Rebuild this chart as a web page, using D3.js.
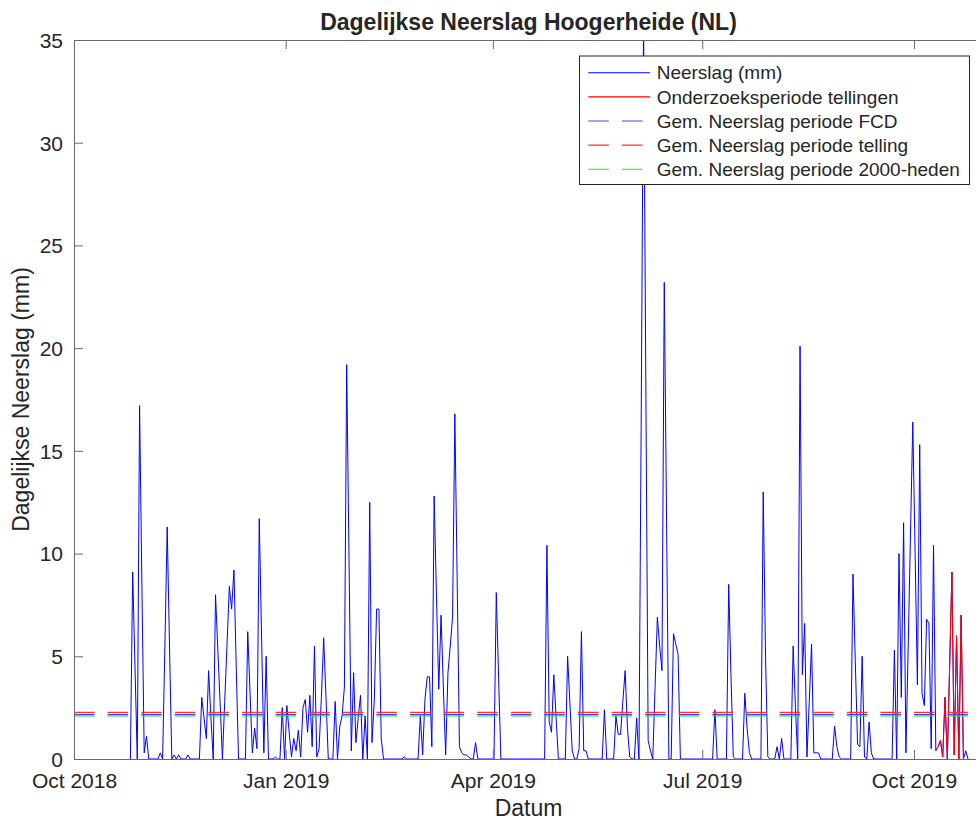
<!DOCTYPE html>
<html>
<head>
<meta charset="utf-8">
<script src="https://cdn.jsdelivr.net/npm/d3@7"></script>
<style>
  html, body { margin: 0; padding: 0; background: #fff; }
  svg { display: block; }
  text { font-family: "Liberation Sans", Arial, Helvetica, sans-serif; fill: #262626; }
</style>
</head>
<body>
<script>
// ---------- DATA ----------
const seriesStart = "2018-10-25"; // first day of the daily series
const neerslag = [
  0, 9.1, 4.5, 0, 17.2, 8.5, 0.3, 1.1, 0, 0,            // 24-33
  0, 0, 0, 0.3, 0, 5.5, 11.3, 5.5, 0, 0.2,              // 34-43
  0, 0.2, 0, 0, 0, 0.2, 0, 0, 0, 0,                     // 44-53
  0, 3.0, 2.0, 1.0, 4.3, 2.0, 0, 8.0, 5.3, 2.7,         // 54-63
  0, 2.8, 5.6, 8.4, 7.3, 9.2, 4.5, 0, 0, 0,             // 64-73
  0, 6.2, 3.2, 0.3, 1.5, 0.5, 11.7, 6.0, 0.3, 5.0,      // 74-83
  0, 0, 0, 0.1, 0, 0, 2.5, 0, 2.6, 1.3,                 // 84-93
  0.1, 1.0, 0.4, 1.4, 0.1, 2.5, 2.9, 1.3, 3.1, 0.6,     // 94-103
  5.5, 0.1, 0.5, 3.0, 5.9, 3.0, 0, 0, 0, 2.8,           // 104-113
  0, 1.6, 2.1, 3.5, 19.2, 9.8, 0.4, 4.2, 0.8, 2.0,      // 114-123
  3.1, 0, 2.1, 0, 12.5, 0.8, 2.9, 7.3, 7.3, 1.0,        // 124-133
  0, 0, 0, 0, 0, 0, 0, 0, 0, 0.1,                       // 134-143
  0, 0, 0, 0, 0, 0, 2.1, 0.2, 2.9, 4.0,                 // 144-153
  4.0, 0.6, 12.8, 8.0, 3.4, 7.0, 3.5, 0.2, 4.2, 5.5,    // 154-163
  6.9, 16.8, 8.7, 0.6, 0.3, 0.2, 0.2, 0.1, 0, 0,        // 164-173
  0.8, 0, 0, 0, 0, 0, 0, 0, 0, 8.1,                     // 174-183
  4.0, 0, 0, 0, 0, 0, 0, 0, 0, 0,                       // 184-193
  0, 0, 0, 0, 0, 0, 0, 0, 0, 0,                         // 194-203
  0, 10.4, 1.8, 1.3, 4.1, 2.0, 0, 0, 0, 0,              // 204-213
  5.0, 2.7, 0.4, 0, 0, 0.5, 6.2, 0.4, 0.4, 0,           // 214-223
  0, 0, 0, 0, 0, 0, 2.4, 0, 0, 0,                       // 224-233
  0, 2.1, 1.2, 1.2, 2.8, 4.3, 1.5, 0.1, 0, 0,           // 234-243
  2.0, 0, 17.0, 36.0, 18.0, 0.9, 0.4, 0, 3.5, 6.9,      // 244-253
  5.5, 4.3, 23.2, 11.6, 0, 0, 6.1, 5.6, 5.1, 0,         // 254-263
  0, 0, 0, 0, 0, 0, 0, 0, 0, 0,                         // 264-273
  0, 0, 0, 0, 2.4, 0, 0, 0, 0, 0,                       // 274-283
  8.5, 4.0, 0.1, 0, 0, 0, 0, 3.2, 1.5, 0.3,             // 284-293
  0, 0, 0, 0, 0, 13.0, 5.0, 0.1, 0, 0,                  // 294-303
  0, 0.6, 0, 1.0, 0, 0, 0, 0, 5.5, 2.5,                 // 304-313
  0, 20.1, 4.1, 6.6, 0.1, 2.8, 5.6, 0.3, 0.3, 0.3,      // 314-323
  0, 0, 0, 0, 0, 0, 1.6, 0.6, 0.1, 0,                   // 324-333
  0, 0, 0, 0, 9.0, 4.8, 0.7, 0.6, 5.0, 0.1,             // 334-343
  0, 1.8, 0.3, 0, 0, 0, 0, 0, 0, 0,                     // 344-353
  0, 0, 5.3, 0, 10.0, 3.0, 11.5, 0.3, 5.5, 11.0,        // 354-363
  16.4, 10.0, 3.6, 15.3, 3.2, 2.6, 6.8, 6.6, 0.5, 10.4, // 364-373
  0.4, 0.6, 0.9, 0.1, 3.0, 0, 4.5, 9.1, 0.2, 6.0,       // 374-383
  0, 7.0, 0, 0.4, 0                                     // 384-388
];
const periodStart = "2019-10-11";   // Onderzoeksperiode tellingen
const periodEnd   = "2019-10-22";
const meanLabels = ["Gem. Neerslag periode FCD", "Gem. Neerslag periode telling", "Gem. Neerslag periode 2000-heden"];
const meanValues = [2.16, 2.27, 2.09];
const xDomain = ["2018-10-01", "2019-10-31"];
const xTickDates  = ["2018-10-01", "2019-01-01", "2019-04-01", "2019-07-01", "2019-10-01"];
const xTickLabels = ["Oct 2018", "Jan 2019", "Apr 2019", "Jul 2019", "Oct 2019"];
const yTicks = [0, 5, 10, 15, 20, 25, 30, 35];
const titleText = "Dagelijkse Neerslag Hoogerheide (NL)";
const xLabelText = "Datum";
const yLabelText = "Dagelijkse Neerslag (mm)";
const legendLabels = ["Neerslag (mm)", "Onderzoeksperiode tellingen"].concat(meanLabels);

// ---------- LAYOUT / STYLE ----------
const W = 976, H = 821;
const L = 74, T = 40, B = 759, R = 983;
const cBlue = "#0000ff", cRed = "#ff0000", cGreen = "#2ee02e";
const meanColors = ["#4040ff", "#ff3030", cGreen];
const dash = "20.5,13.1";

const parse = d3.utcParse("%Y-%m-%d");
const x = d3.scaleUtc().domain(xDomain.map(parse)).range([L, R]);
const y = d3.scaleLinear().domain([0, 35]).range([B, T]);

const t0 = parse(seriesStart);
const pts = neerslag.map((v, i) => ({ date: d3.utcHour.offset(d3.utcDay.offset(t0, i), 12), v }));
const pS = parse(periodStart), pE = d3.utcHour.offset(parse(periodEnd), 23);
const redPts = pts.filter(p => p.date >= pS && p.date <= pE);

const svg = d3.select("body").append("svg").attr("width", W).attr("height", H);

svg.append("defs").append("clipPath").attr("id", "clip")
  .append("rect").attr("x", L).attr("y", T).attr("width", R - L).attr("height", B - T);

const plot = svg.append("g").attr("clip-path", "url(#clip)");
const line = d3.line().x(d => x(d.date)).y(d => y(d.v));

plot.append("path").datum(pts).attr("d", line)
  .attr("fill", "none").attr("stroke", cBlue).attr("stroke-width", 1).attr("stroke-linejoin", "round");
plot.append("path").datum(redPts).attr("d", line)
  .attr("fill", "none").attr("stroke", cRed).attr("stroke-width", 1).attr("stroke-linejoin", "round");

meanValues.forEach((m, k) => {
  plot.append("line")
    .attr("x1", x(parse(xDomain[0]))).attr("x2", x(parse(xDomain[1])))
    .attr("y1", y(m)).attr("y2", y(m))
    .attr("stroke", meanColors[k]).attr("stroke-width", 1.1)
    .attr("stroke-dasharray", dash);
});

// ---------- AXES ----------
const axisColor = "#6a6a6a";
const tickLen = 9;
const xAxisB = d3.axisBottom(x).tickValues(xTickDates.map(parse))
  .tickFormat((d, i) => xTickLabels[i]).tickSizeInner(-tickLen).tickSizeOuter(0).tickPadding(19);
const gx = svg.append("g").attr("transform", `translate(0,${B})`).call(xAxisB);
const xAxisT = d3.axisTop(x).tickValues(xTickDates.map(parse)).tickFormat("").tickSizeInner(-tickLen).tickSizeOuter(0);
const gxt = svg.append("g").attr("transform", `translate(0,${T})`).call(xAxisT);
const yAxisL = d3.axisLeft(y).tickValues(yTicks).tickSizeInner(-tickLen).tickSizeOuter(0).tickPadding(11);
const gy = svg.append("g").attr("transform", `translate(${L},0)`).call(yAxisL);

[gx, gxt, gy].forEach(g => {
  g.select(".domain").attr("stroke", axisColor).attr("stroke-width", 1);
  g.selectAll(".tick line").attr("stroke", axisColor).attr("stroke-width", 1);
  g.selectAll(".tick text").attr("fill", "#262626").style("font-size", "21px")
    .style("font-family", '"Liberation Sans", Arial, Helvetica, sans-serif');
});
gx.selectAll(".tick text").attr("dy", null).attr("y", 29);
gy.selectAll(".tick text").attr("dy", "0.35em");

// ---------- TEXTS ----------
svg.append("text").attr("x", (L + R) / 2).attr("y", 30).attr("text-anchor", "middle")
  .style("font-size", "23px").style("font-weight", "bold").attr("fill", "#000").text(titleText);
svg.append("text").attr("x", (L + R) / 2).attr("y", 816).attr("text-anchor", "middle")
  .style("font-size", "23px").text(xLabelText);
svg.append("text").attr("transform", `translate(29,${(T + B) / 2}) rotate(-90)`).attr("text-anchor", "middle")
  .style("font-size", "23px").text(yLabelText);

// ---------- LEGEND ----------
const lg = svg.append("g");
const lx = 579.5, ly = 56, lw = 390, lh = 128.5;
lg.append("rect").attr("x", lx).attr("y", ly).attr("width", lw).attr("height", lh)
  .attr("fill", "#fff").attr("stroke", "#262626").attr("stroke-width", 1);
const rowY = d3.scaleLinear().domain([0, 4]).range([ly + 16.7, ly + 113.3]);
const legendColors = [cBlue, cRed].concat(meanColors);
const legendDash = [null, null, dash, dash, dash];
legendLabels.forEach((lab, i) => {
  const yy = rowY(i);
  lg.append("line").attr("x1", lx + 8.8).attr("x2", lx + 70.5).attr("y1", yy).attr("y2", yy)
    .attr("stroke", legendColors[i]).attr("stroke-width", 1.1)
    .attr("stroke-dasharray", legendDash[i]);
  lg.append("text").attr("x", lx + 77.2).attr("y", yy).attr("dy", "0.35em")
    .style("font-size", "19px").text(lab);
});
</script>
</body>
</html>
